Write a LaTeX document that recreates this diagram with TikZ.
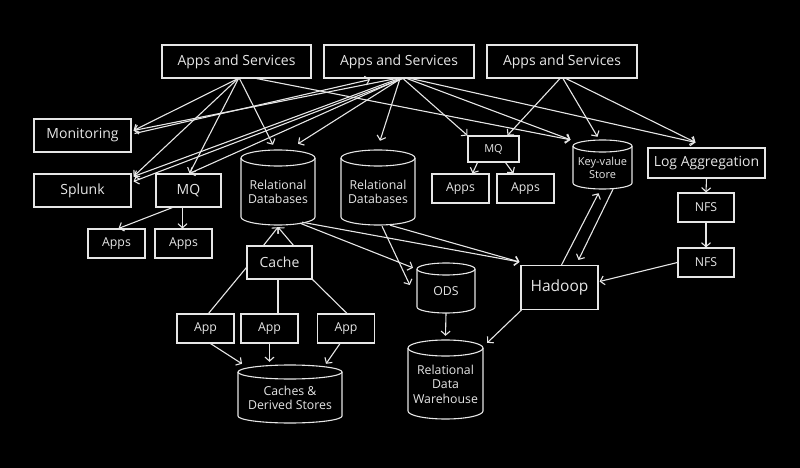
\documentclass[tikz,border=0pt]{standalone}
\usepackage{fontspec}
\setmainfont{Open Sans}
\usetikzlibrary{arrows.meta,calc}
\definecolor{fg}{HTML}{E6E6E6}
\tikzset{
  ln/.style={draw=fg, line width=1.1pt},
  arr/.style={ln, -{Straight Barb[length=4pt,width=9pt]}},
  box/.style={draw=fg, line width=1.1pt, inner sep=0pt, text=fg, align=center},
  cyltxt/.style={inner sep=0pt, text=fg, align=center},
  f15/.style={font=\fontsize{15.5}{18}\selectfont},
  f14/.style={font=\fontsize{14}{16}\selectfont},
  f12/.style={font=\fontsize{12.3}{14.5}\selectfont},
  f11/.style={font=\fontsize{11}{13}\selectfont},
}
% name, cx, cy, half width, half height, ellipse ry, font style, text
\newcommand\mycyl[8]{%
  \node[inner sep=0pt, minimum width={2*#4pt}, minimum height={2*#5pt}] (#1) at (#2,#3) {};
  \draw[ln] (#2,#3-#5+#6) ellipse [x radius=#4pt, y radius=#6pt];
  \draw[ln] (#2-#4,#3-#5+#6) -- (#2-#4,#3+#5-#6)
     arc [start angle=180, end angle=360, x radius=#4pt, y radius=#6pt] -- (#2+#4,#3-#5+#6);
  \node[cyltxt,#7] (#1-t) at (#2,#3+#6*0.55) {#8};
}
\begin{document}
\begin{tikzpicture}[x=1pt,y=-1pt]
\path[fill=black] (0,0) rectangle (800,468);
\useasboundingbox (0,0) rectangle (800,468);

% boxes
\node[box,f14,minimum width=149pt,minimum height=33pt] (AS1) at (236.5,61.5) {Apps and Services};
\node[box,f14,minimum width=150pt,minimum height=33pt] (AS2) at (399,61.5) {Apps and Services};
\node[box,f14,minimum width=150pt,minimum height=33pt] (AS3) at (562,61.5) {Apps and Services};
\node[box,f14,minimum width=97pt,minimum height=33pt] (Mon) at (82.5,135.5) {Monitoring};
\node[box,f14,minimum width=97pt,minimum height=33pt] (Spl) at (82.5,190.5) {Splunk};
\node[box,f14,minimum width=65pt,minimum height=33pt] (MQL) at (188.5,190.5) {MQ};
\node[box,f12,minimum width=57pt,minimum height=29pt] (Apps1) at (116.5,243.5) {Apps};
\node[box,f12,minimum width=57pt,minimum height=29pt] (Apps2) at (183.5,243.5) {Apps};
\node[box,f11,minimum width=51pt,minimum height=26pt] (MQR) at (493.5,149) {MQ};
\node[box,f12,minimum width=57pt,minimum height=29pt] (Apps3) at (460.5,188.5) {Apps};
\node[box,f12,minimum width=57pt,minimum height=29pt] (Apps4) at (525.5,188.5) {Apps};
\node[box,f14,minimum width=117pt,minimum height=30pt] (LogAgg) at (706.5,163) {Log Aggregation};
\node[box,f12,minimum width=56pt,minimum height=29pt] (NFS1) at (706,207.5) {NFS};
\node[box,f12,minimum width=56pt,minimum height=29pt] (NFS2) at (706,262.5) {NFS};
\node[box,f15,minimum width=77pt,minimum height=44pt] (Hadoop) at (559.5,287.5) {Hadoop};
\node[box,f14,minimum width=65pt,minimum height=33pt] (Cache) at (279.5,262.5) {Cache};
\node[box,f12,minimum width=57pt,minimum height=29pt] (App1) at (205.5,328.5) {App};
\node[box,f12,minimum width=57pt,minimum height=29pt] (App2) at (269.5,328.5) {App};
\node[box,f12,minimum width=57pt,minimum height=29pt] (App3) at (346,328.5) {App};

% cylinders
\mycyl{RDB1}{278}{187.5}{37}{37.5}{8}{f12}{Relational\\Databases}
\mycyl{RDB2}{378}{187.5}{37}{37.5}{8}{f12}{Relational\\Databases}
\mycyl{KV}{602.5}{164.5}{29.5}{24.5}{6}{f11}{Key-value\\Store}
\mycyl{ODS}{446}{288}{29}{25}{6}{f12}{ODS}
\mycyl{CDS}{290}{394}{52}{29}{7}{f12}{Caches \&\\Derived Stores}
\mycyl{RDW}{445.5}{379.5}{37.5}{39.5}{8}{f12}{Relational\\Data\\Warehouse}

% from AS1
\draw[arr] ($(AS1.south)+(1.5,0)$) -- ($(Mon.east)+(2,-5)$);
\draw[arr] ($(AS1.south)+(1.5,0)$) -- ($(Spl.north east)+(2,3)$);
\draw[arr] ($(AS1.south)+(2,0)$) -- ($(MQL.north)+(1,0)$);
\draw[arr] ($(AS1.south)+(3,0)$) -- ($(RDB1.north)+(-5,-5)$);
\draw[arr] ($(AS1.south)+(20,0)$) -- ($(KV.north)+(-32,0)$);

% from AS2
\draw[arr] ($(Mon.east)+(3,-2)$) -- ($(AS2.south)+(-29,1)$);
\draw[arr] ($(AS2.south)+(-3,0)$) -- ($(Mon.east)+(2,-5)$);
\draw[arr] (AS2.south) -- ($(Spl.north east)+(2,3)$);
\draw[arr] ($(AS2.south)+(4,0)$) -- ($(Spl.north east)+(2,8)$);
\draw[arr] ($(AS2.south)+(2,0)$) -- ($(MQL.north)+(1,0)$);
\draw[arr] ($(AS2.south)+(2,0)$) -- ($(RDB1.north)+(20,-6)$);
\draw[arr] ($(AS2.south)+(1,0)$) -- ($(RDB2.north)+(2,-9)$);
\draw[arr] ($(AS2.south)+(4,0)$) -- (MQR.north west);
\draw[arr] ($(AS2.south)+(8,0)$) -- ($(KV.north)+(-32,0)$);
\draw[arr] ($(AS2.south)+(12,0)$) -- ($(LogAgg.north)+(-11,-5)$);

% from AS3
\draw[arr] ($(AS3.south)+(-2,0)$) -- ($(MQR.north)+(14,0)$);
\draw[arr] ($(AS3.south)+(1,0)$) -- ($(KV.north)+(-5,-3)$);
\draw[arr] ($(AS3.south)+(4,0)$) -- ($(LogAgg.north)+(-11,-5)$);

% MQs to apps
\draw[arr] ($(MQL.south)+(-16,0)$) -- ($(Apps1.north)+(2,0)$);
\draw[arr] ($(MQL.south)+(-6,0)$) -- ($(Apps2.north)+(-1,0)$);
\draw[arr] ($(MQR.south)+(-16,0)$) -- ($(Apps3.north)+(12,0)$);
\draw[arr] ($(MQR.south)+(12,0)$) -- ($(Apps4.north)+(-12,0)$);

% cache
\draw[arr] ($(Cache.north)+(-16,0)$) -- ($(RDB1.south)+(0,2)$);
\draw[arr] ($(Cache.north)+(14,0)$) -- ($(RDB1.south)+(0,2)$);
\draw[ln] ($(Cache.west)+(0,5)$) -- ($(App1.north)+(3,0)$);
\draw[ln] ($(Cache.south)+(-1.5,0)$) -- ($(App2.north)+(8.5,0)$);
\draw[ln] (Cache.south east) -- ($(App3.north)+(1,0)$);
\draw[arr] ($(App1.south)+(5,0)$) -- ($(CDS.north)+(-48,-1)$);
\draw[arr] (App2.south) -- ($(CDS.north)+(-20.5,-3)$);
\draw[arr] ($(App3.south)+(-6,0)$) -- ($(CDS.north)+(36,-1)$);

% databases
\draw[arr] ($(RDB1.south)+(22,-2)$) -- ($(ODS.north)+(-33,5)$);
\draw[arr] ($(RDB1.south)+(24,-3)$) -- ($(Hadoop.north west)+(-1,-3)$);
\draw[arr] ($(RDB2.south)+(4,1)$) -- ($(ODS.west)+(-7,-3)$);
\draw[arr] ($(RDB2.south)+(12,0)$) -- ($(Hadoop.north west)+(-1,-3)$);
\draw[arr] (ODS.south) -- ($(RDW.north)+(0,-4)$);
\draw[arr] ($(Hadoop.south west)+(1,0)$) -- ($(RDW.north east)+(4,3)$);
\draw[arr] ($(Hadoop.north)+(2,0)$) -- ($(KV.south)+(-4,4)$);
\draw[arr] ($(KV.south)+(11,-1)$) -- ($(Hadoop.north)+(19,-5)$);

% log pipeline
\draw[arr] (LogAgg.south) -- (NFS1.north);
\draw[arr] (NFS1.south) -- (NFS2.north);
\draw[arr] (NFS2.west) -- ($(Hadoop.east)+(1,-6)$);
\end{tikzpicture}
\end{document}
